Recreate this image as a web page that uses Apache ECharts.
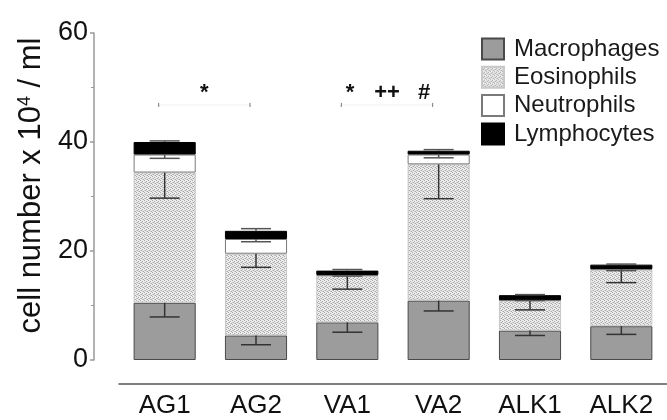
<!DOCTYPE html>
<html>
<head>
<meta charset="utf-8">
<script src="https://cdn.jsdelivr.net/npm/echarts@6/dist/echarts.min.js"></script>
<style>html,body{margin:0;padding:0;background:#fff}#c{width:667px;height:420px}</style>
</head>
<body>
<div id="c"></div>
<script>
var categories = ['AG1', 'AG2', 'VA1', 'VA2', 'ALK1', 'ALK2'];
var macrophages = [10.5, 4.5, 6.9, 10.9, 5.4, 6.2];
var eosinophils = [23.9, 15.0, 8.5, 25.0, 5.5, 10.4];
var neutrophils = [3.3, 2.7, 0.2, 1.8, 0.1, 0.1];
var lymphocytes = [2.3, 1.5, 0.8, 0.7, 0.9, 0.8];
var macErr = [2.6, 1.7, 1.8, 1.9, 0.9, 1.5];
var eosErr = [4.7, 2.5, 2.4, 6.3, 1.7, 2.4];
var neutErr = [0.7, 0.5, 0.2, 0.6, 0.1, 0.3];
var lymphErr = [0.2, 0.4, 0.2, 0.2, 0.1, 0.1];
var yTicks = [0, 20, 40, 60];
// significance brackets: [fromCategory, toCategory, level, symbols]
var sigFrom = ['AG1', 'VA1'];
var sigTo = ['AG2', 'VA2'];
var sigLevel = [46.8, 46.8];
var sigSymbols = [['*'], ['*', '++', '#']];

var FONT = 'Liberation Sans, Arial, sans-serif';

// stipple pattern for eosinophils
var pc = document.createElement('canvas');
pc.width = 4; pc.height = 4;
var g = pc.getContext('2d');
g.fillStyle = '#ececec'; g.fillRect(0, 0, 4, 4);
g.fillStyle = '#a8a8a8';
g.fillRect(0, 0, 1, 1); g.fillRect(2, 1, 1, 1); g.fillRect(1, 2, 1, 1); g.fillRect(3, 3, 1, 1);
g.fillStyle = '#cacaca';
g.fillRect(2, 3, 1, 1); g.fillRect(0, 2, 1, 1);
var eosPattern = { image: pc, repeat: 'repeat' };

var names = ['Macrophages', 'Eosinophils', 'Neutrophils', 'Lymphocytes'];
var values = [macrophages, eosinophils, neutrophils, lymphocytes];
var errs = [macErr, eosErr, neutErr, lymphErr];
var errDir = [-1, -1, -1, 1];
var styles = [
  { color: '#9c9c9c', borderColor: '#4a4a4a', borderWidth: 1 },
  { color: eosPattern, borderColor: '#c8c8c8', borderWidth: 1 },
  { color: '#ffffff', borderColor: '#7a7a7a', borderWidth: 1 },
  { color: '#000000', borderColor: '#000000', borderWidth: 1 }
];
var errColors = ['#333333', '#333333', '#555555', '#555555'];

var series = [];
names.forEach(function (n, i) {
  series.push({
    name: n, type: 'bar', stack: 'cells', barWidth: '68%',
    data: values[i], itemStyle: styles[i], animation: false
  });
});

// error bars: from top of each segment
names.forEach(function (n, i) {
  var data = categories.map(function (c, k) {
    var top = 0;
    for (var s = 0; s <= i; s++) top += values[s][k];
    return [k, top, top + errDir[i] * errs[i][k]];
  });
  series.push({
    type: 'custom', name: n + ' err', data: data, z: 10, animation: false,
    silent: true, legendHoverLink: false,
    renderItem: function (params, api) {
      var x = api.value(0);
      var p1 = api.coord([x, api.value(1)]);
      var p2 = api.coord([x, api.value(2)]);
      var hw = 15;
      return {
        type: 'group',
        children: [
          { type: 'line', shape: { x1: p1[0], y1: p1[1], x2: p2[0], y2: p2[1] },
            style: { stroke: errColors[i], lineWidth: 1.5 } },
          { type: 'line', shape: { x1: p2[0] - hw, y1: p2[1], x2: p2[0] + hw, y2: p2[1] },
            style: { stroke: errColors[i], lineWidth: 1.5 } }
        ]
      };
    }
  });
});

// significance annotation
series.push({
  type: 'custom', name: 'sig', z: 10, animation: false, silent: true,
  data: sigFrom.map(function (f, i) {
    return [categories.indexOf(f), categories.indexOf(sigTo[i]), sigLevel[i], i];
  }),
  renderItem: function (params, api) {
    var a = api.coord([api.value(0), api.value(2)]);
    var b = api.coord([api.value(1), api.value(2)]);
    var x1 = a[0] - 6, x2 = b[0] - 6, y = a[1];
    var syms = sigSymbols[api.value(3)];
    var mid = (x1 + x2) / 2;
    var children = [
      { type: 'line', shape: { x1: x1, y1: y, x2: x2, y2: y }, style: { stroke: '#f0f0f0', lineWidth: 1 } },
      { type: 'line', shape: { x1: x1, y1: y - 2, x2: x1, y2: y + 2 }, style: { stroke: '#777', lineWidth: 1 } },
      { type: 'line', shape: { x1: x2, y1: y - 2, x2: x2, y2: y + 2 }, style: { stroke: '#777', lineWidth: 1 } }
    ];
    var step = 37;
    syms.forEach(function (s, j) {
      children.push({
        type: 'text',
        style: {
          text: s, x: mid + (j - (syms.length - 1) / 2) * step, y: y - 12,
          align: 'center', verticalAlign: 'middle',
          font: 'bold 22px ' + FONT, fill: '#111'
        }
      });
    });
    return { type: 'group', children: children };
  }
});

var chart = echarts.init(document.getElementById('c'), null, { renderer: 'canvas' });
chart.setOption({
  animation: false,
  textStyle: { fontFamily: FONT },
  grid: { left: 119, right: 0, top: 33, bottom: 60, containLabel: false },
  legend: {
    data: names, orient: 'vertical', left: 481, top: 37, padding: 0,
    itemWidth: 22, itemHeight: 21, itemGap: 4.3, selectedMode: false,
    icon: 'rect',
    textStyle: { fontSize: 24, lineHeight: 21, color: '#1a1a1a', fontFamily: FONT, padding: [0, 0, 0, 5] }
  },
  xAxis: {
    type: 'category', data: categories, offset: 24,
    axisLine: { onZero: false, lineStyle: { color: '#555', width: 1.5 } },
    axisTick: { alignWithLabel: true, length: 5, lineStyle: { color: '#555', width: 1.5 } },
    axisLabel: { fontSize: 26, color: '#111', margin: 9, fontFamily: FONT }
  },
  yAxis: {
    type: 'value', min: 0, max: 60, interval: 20, offset: 25,
    name: 'cell number x 10{sup|4} / ml', nameLocation: 'middle', nameGap: 40,
    nameTextStyle: {
      fontSize: 31, color: '#111', fontFamily: FONT, padding: [0, 0, 0, 22],
      rich: { sup: { fontSize: 18, verticalAlign: 'top', color: '#111', fontFamily: FONT, padding: [0, 0, 12, 0] } }
    },
    splitLine: { show: false },
    axisLine: { show: true, lineStyle: { color: '#9a9a9a', width: 1.5 } },
    axisTick: { show: true, length: 4, lineStyle: { color: '#9a9a9a', width: 1.5 } },
    minorTick: { show: true, splitNumber: 2, length: 3, lineStyle: { color: '#9a9a9a', width: 1 } },
    axisLabel: {
      fontSize: 27, color: '#111', margin: 6, fontFamily: FONT,
      customValues: yTicks
    }
  },
  series: series
});
</script>
</body>
</html>
